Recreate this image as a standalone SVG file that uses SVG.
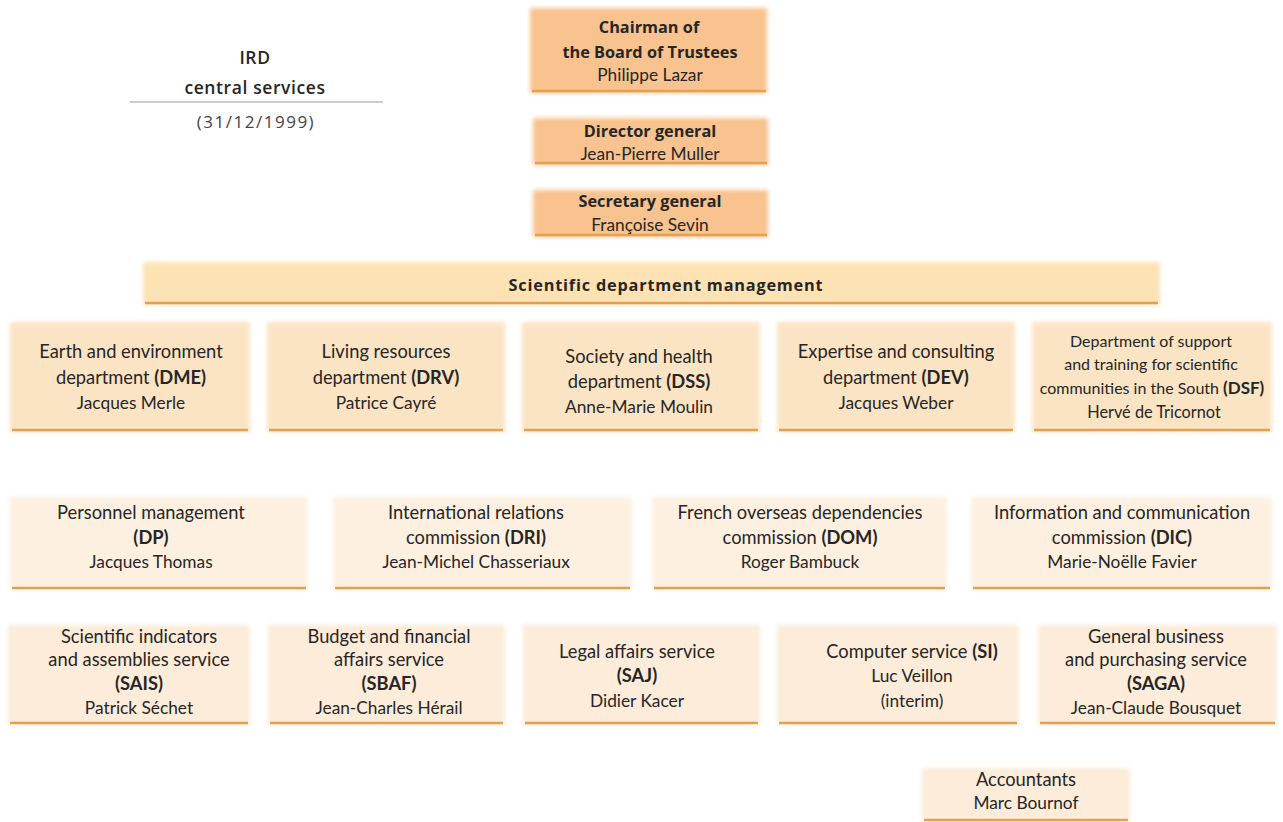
<svg xmlns="http://www.w3.org/2000/svg" width="1283" height="822" viewBox="0 0 1283 822">
<style>
.t{font-family:Lato,"Open Sans","Liberation Sans",sans-serif;font-size:18.3px;fill:#262626;text-anchor:middle}
.n{font-size:17.3px}
.b{font-weight:bold}
.h{font-family:"Open Sans",Lato,"Liberation Sans",sans-serif;font-weight:bold;font-size:16.3px}
.g{fill:#444}
.s1{fill:#f8c38e}
.s2{fill:#fde2b4}
.s3{fill:#fbe4c4}
.s4{fill:#fdf0e0}
.s5{fill:#fcecd9}
.rule{stroke:#e4a04f;stroke-width:2.5}
</style>
<defs>
<filter id="soft" x="-5%" y="-10%" width="110%" height="120%"><feGaussianBlur stdDeviation="2"/></filter>
</defs>
<rect width="1283" height="822" fill="#ffffff"/>
<g id="title">
<text class="t" x="255" y="64" style="font-family:'Open Sans',sans-serif;font-size:17.5px;font-weight:600;letter-spacing:0.6px">IRD</text>
<text class="t" x="255" y="94" style="font-family:'Open Sans',sans-serif;font-size:17.5px;font-weight:600;letter-spacing:0.6px">central services</text>
<line x1="130" y1="102" x2="383" y2="102" stroke="#999" stroke-width="1"/>
<text class="t g" x="256" y="128" style="font-family:'Open Sans',sans-serif;font-size:17px;letter-spacing:1.5px">(31/12/1999)</text>
</g>
<g id="chairman">
<rect class="s1" x="530" y="8" width="237" height="85" filter="url(#soft)"/>
<line class="rule" x1="532" y1="91" x2="766" y2="91"/>
<text class="t h" x="649" y="33">Chairman of</text>
<text class="t h" x="650" y="58">the Board of Trustees</text>
<text class="t n" x="650" y="81">Philippe Lazar</text>
</g>
<g id="director">
<rect class="s1" x="533" y="118" width="235" height="47" filter="url(#soft)"/>
<line class="rule" x1="535" y1="163" x2="767" y2="163"/>
<text class="t h" x="650" y="137">Director general</text>
<text class="t n" x="650" y="160">Jean-Pierre Muller</text>
</g>
<g id="secretary">
<rect class="s1" x="533" y="190" width="235" height="47" filter="url(#soft)"/>
<line class="rule" x1="535" y1="235" x2="767" y2="235"/>
<text class="t h" x="650" y="207">Secretary general</text>
<text class="t n" x="650" y="231">Françoise Sevin</text>
</g>
<g id="sdm">
<rect class="s2" x="143" y="262" width="1017" height="43" filter="url(#soft)"/>
<line class="rule" x1="145" y1="303" x2="1158" y2="303"/>
<text class="t h" x="666" y="291" style="letter-spacing:0.8px">Scientific department management</text>
</g>
<g id="dme">
<rect class="s3" x="10" y="322" width="240" height="110" filter="url(#soft)"/>
<line class="rule" x1="12" y1="430" x2="248" y2="430"/>
<text class="t" x="131" y="358">Earth and environment</text>
<text class="t" x="131" y="384">department <tspan class="b">(DME)</tspan></text>
<text class="t n" x="131" y="409">Jacques Merle</text>
</g>
<g id="drv">
<rect class="s3" x="267" y="322" width="238" height="110" filter="url(#soft)"/>
<line class="rule" x1="269" y1="430" x2="503" y2="430"/>
<text class="t" x="386" y="358">Living resources</text>
<text class="t" x="386" y="384">department <tspan class="b">(DRV)</tspan></text>
<text class="t n" x="386" y="409">Patrice Cayré</text>
</g>
<g id="dss">
<rect class="s3" x="522" y="322" width="238" height="110" filter="url(#soft)"/>
<line class="rule" x1="524" y1="430" x2="758" y2="430"/>
<text class="t" x="639" y="363">Society and health</text>
<text class="t" x="639" y="388">department <tspan class="b">(DSS)</tspan></text>
<text class="t n" x="639" y="413">Anne-Marie Moulin</text>
</g>
<g id="dev">
<rect class="s3" x="777" y="322" width="238" height="110" filter="url(#soft)"/>
<line class="rule" x1="779" y1="430" x2="1013" y2="430"/>
<text class="t" x="896" y="358">Expertise and consulting</text>
<text class="t" x="896" y="384">department <tspan class="b">(DEV)</tspan></text>
<text class="t n" x="896" y="409">Jacques Weber</text>
</g>
<g id="dsf">
<rect class="s3" x="1032" y="322" width="240" height="110" filter="url(#soft)"/>
<line class="rule" x1="1034" y1="430" x2="1270" y2="430"/>
<text class="t" x="1151" y="347" style="font-size:16px">Department of support</text>
<text class="t" x="1151" y="370" style="font-size:16px">and training for scientific</text>
<text class="t" x="1152" y="394" style="font-size:16px">communities in the South <tspan class="b" style="font-size:17px">(DSF)</tspan></text>
<text class="t" x="1154" y="418" style="font-size:16.3px">Hervé de Tricornot</text>
</g>
<g id="dp">
<rect class="s4" x="10" y="497" width="298" height="93" filter="url(#soft)"/>
<line class="rule" x1="12" y1="588" x2="306" y2="588"/>
<text class="t" x="151" y="519">Personnel management</text>
<text class="t b" x="151" y="544">(DP)</text>
<text class="t n" x="151" y="568">Jacques Thomas</text>
</g>
<g id="dri">
<rect class="s4" x="333" y="497" width="299" height="93" filter="url(#soft)"/>
<line class="rule" x1="335" y1="588" x2="630" y2="588"/>
<text class="t" x="476" y="519">International relations</text>
<text class="t" x="476" y="544">commission <tspan class="b">(DRI)</tspan></text>
<text class="t n" x="476" y="568">Jean-Michel Chasseriaux</text>
</g>
<g id="dom">
<rect class="s4" x="652" y="497" width="295" height="93" filter="url(#soft)"/>
<line class="rule" x1="654" y1="588" x2="945" y2="588"/>
<text class="t" x="800" y="519">French overseas dependencies</text>
<text class="t" x="800" y="544">commission <tspan class="b">(DOM)</tspan></text>
<text class="t n" x="800" y="568">Roger Bambuck</text>
</g>
<g id="dic">
<rect class="s4" x="971" y="497" width="301" height="93" filter="url(#soft)"/>
<line class="rule" x1="973" y1="588" x2="1270" y2="588"/>
<text class="t" x="1122" y="519">Information and communication</text>
<text class="t" x="1122" y="544">commission <tspan class="b">(DIC)</tspan></text>
<text class="t n" x="1122" y="568">Marie-Noëlle Favier</text>
</g>
<g id="sais">
<rect class="s5" x="8" y="625" width="242" height="100" filter="url(#soft)"/>
<line class="rule" x1="10" y1="723" x2="248" y2="723"/>
<text class="t" x="139" y="643">Scientific indicators</text>
<text class="t" x="139" y="666">and assemblies service</text>
<text class="t b" x="139" y="690">(SAIS)</text>
<text class="t n" x="139" y="714">Patrick Séchet</text>
</g>
<g id="sbaf">
<rect class="s5" x="268" y="625" width="237" height="100" filter="url(#soft)"/>
<line class="rule" x1="270" y1="723" x2="503" y2="723"/>
<text class="t" x="389" y="643">Budget and financial</text>
<text class="t" x="389" y="666">affairs service</text>
<text class="t b" x="389" y="690">(SBAF)</text>
<text class="t n" x="389" y="714">Jean-Charles Hérail</text>
</g>
<g id="saj">
<rect class="s5" x="523" y="625" width="237" height="100" filter="url(#soft)"/>
<line class="rule" x1="525" y1="723" x2="758" y2="723"/>
<text class="t" x="637" y="658">Legal affairs service</text>
<text class="t b" x="637" y="682">(SAJ)</text>
<text class="t n" x="637" y="707">Didier Kacer</text>
</g>
<g id="si">
<rect class="s5" x="777" y="625" width="242" height="100" filter="url(#soft)"/>
<line class="rule" x1="779" y1="723" x2="1017" y2="723"/>
<text class="t" x="912" y="658">Computer service <tspan class="b">(SI)</tspan></text>
<text class="t n" x="912" y="682">Luc Veillon</text>
<text class="t n" x="912" y="707">(interim)</text>
</g>
<g id="saga">
<rect class="s5" x="1038" y="625" width="239" height="100" filter="url(#soft)"/>
<line class="rule" x1="1040" y1="723" x2="1275" y2="723"/>
<text class="t" x="1156" y="643">General business</text>
<text class="t" x="1156" y="666">and purchasing service</text>
<text class="t b" x="1156" y="690">(SAGA)</text>
<text class="t n" x="1156" y="714">Jean-Claude Bousquet</text>
</g>
<g id="accountants">
<rect class="s5" x="922" y="768" width="208" height="54" filter="url(#soft)"/>
<line class="rule" x1="924" y1="820" x2="1128" y2="820"/>
<text class="t" x="1026" y="786">Accountants</text>
<text class="t n" x="1026" y="809">Marc Bournof</text>
</g>
<g id="connectors"/>
</svg>
